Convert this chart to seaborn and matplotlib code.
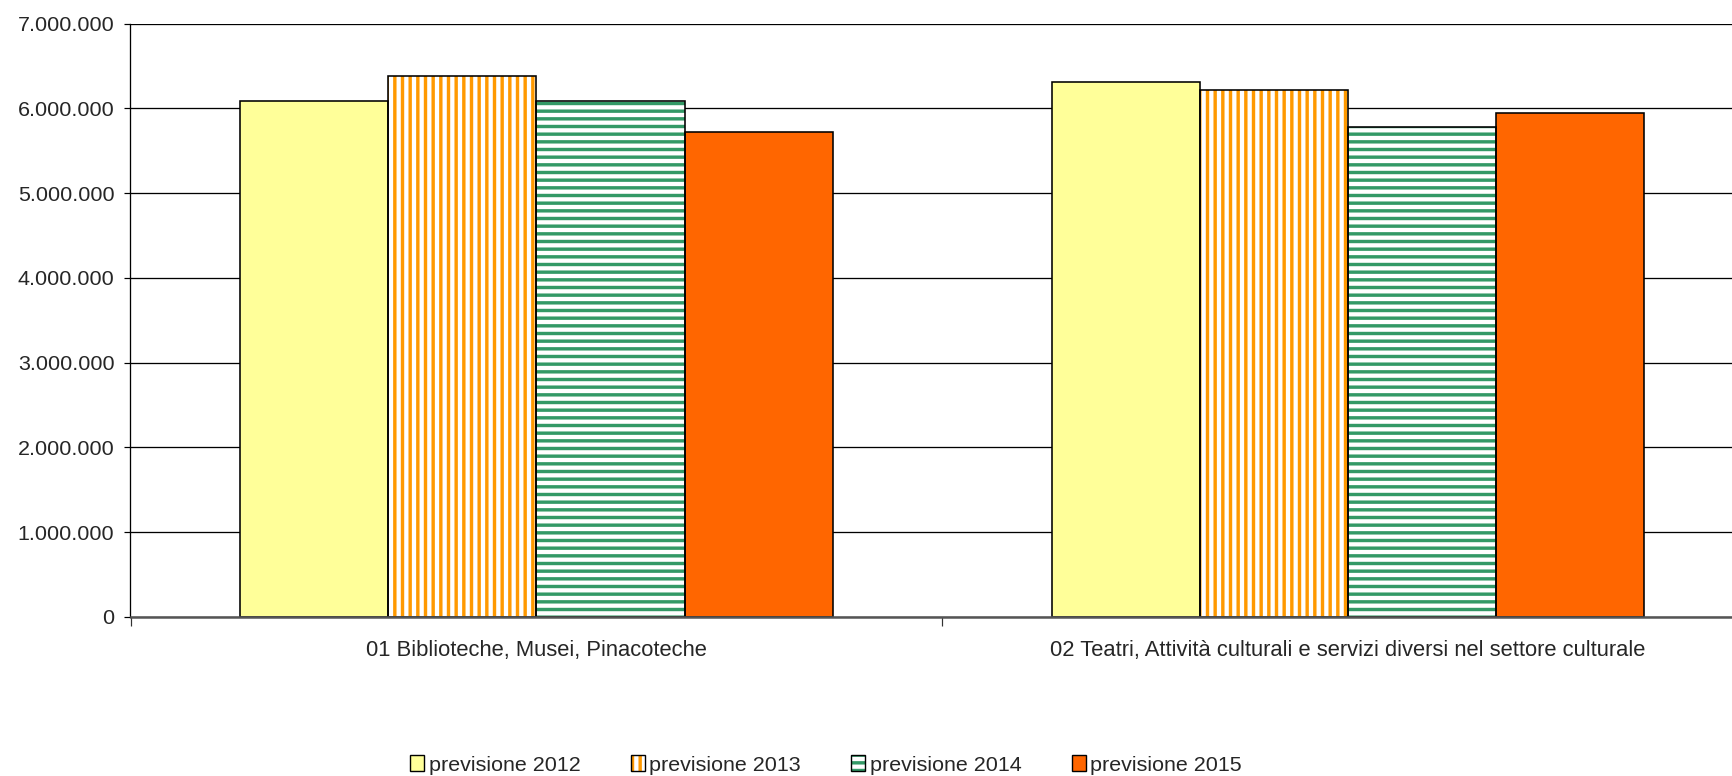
import pandas as pd
import matplotlib
matplotlib.use("Agg")
import matplotlib.pyplot as plt
import seaborn as sns
from matplotlib.patches import Patch, Rectangle
from matplotlib.ticker import FuncFormatter, FixedLocator

# data
categories = [
    "01 Biblioteche, Musei, Pinacoteche",
    "02 Teatri, Attività culturali e servizi diversi nel settore culturale",
]
series_names = ["previsione 2012", "previsione 2013", "previsione 2014", "previsione 2015"]
values_2012 = [6085000, 6313000]
values_2013 = [6383000, 6215000]
values_2014 = [6085000, 5780000]
values_2015 = [5716000, 5940000]

face_colors = ["#FFFF99", "white", "white", "#FF6600"]
hatch_colors = ["#FFFF99", "#FF9900", "#339966", "#FF6600"]
hatches = [None, "||", "--", None]

DPI = 92


def px(n):
    # pixels -> points at the output dpi
    return n * 72 / DPI


df = pd.DataFrame({
    "categoria": categories * 4,
    "serie": [s for s in series_names for _ in categories],
    "valore": values_2012 + values_2013 + values_2014 + values_2015,
})

sns.set_style("white")
plt.rcParams["font.family"] = ["Liberation Sans", "DejaVu Sans"]
plt.rcParams["hatch.linewidth"] = px(3.4)

fig = plt.figure(figsize=(1733 / DPI, 776 / DPI), dpi=DPI)
ax = fig.add_axes([130.5 / 1733, 159 / 776, (1754 - 130.5) / 1733, 593.5 / 776])

sns.barplot(
    data=df, x="categoria", y="valore", hue="serie", order=categories,
    hue_order=series_names, palette=face_colors, width=0.73, gap=0,
    saturation=1, legend=False, ax=ax, zorder=2,
)

# restyle bars: hatch in colour, black outline drawn on top
for cont, fc, hc, h in zip(ax.containers, face_colors, hatch_colors, hatches):
    for p in cont:
        p.set_facecolor(fc)
        p.set_edgecolor(hc)
        p.set_linewidth(0)
        p.set_hatch(h)
        ax.add_patch(Rectangle((p.get_x(), p.get_y()), p.get_width(), p.get_height(),
                               fill=False, ec="black", lw=px(1.6), zorder=3))

ax.set_ylim(0, 7000000)
ax.set_xlim(-0.5, 1.5)
ax.yaxis.set_major_locator(FixedLocator(range(0, 7000001, 1000000)))
ax.yaxis.set_major_formatter(FuncFormatter(lambda v, _: f"{int(v):,}".replace(",", ".")))
ax.yaxis.grid(True, color="black", lw=px(1.3), zorder=0)
ax.set_axisbelow(True)

# category boundaries get tick marks, centres carry the labels
ax.xaxis.set_major_locator(FixedLocator([-0.5, 0.5, 1.5]))
ax.xaxis.set_major_formatter(FuncFormatter(lambda v, _: ""))
ax.xaxis.set_minor_locator(FixedLocator([0, 1]))
ax.set_xticklabels(categories, minor=True)
ax.tick_params(axis="x", which="major", direction="out", length=px(9), width=px(1.2),
               color="#333333", bottom=True)
ax.tick_params(axis="x", which="minor", length=0, pad=px(23), labelsize=px(22))
ax.tick_params(axis="y", direction="out", length=px(6), width=px(1.2), color="black",
               pad=px(10), labelsize=px(21.5), left=True)

ax.set_xlabel("")
ax.set_ylabel("")
for side in ["top", "right"]:
    ax.spines[side].set_visible(False)
ax.spines["left"].set_color("black")
ax.spines["left"].set_linewidth(px(1.3))
ax.spines["bottom"].set_color("#555555")
ax.spines["bottom"].set_linewidth(px(2.5))
ax.spines["bottom"].set_zorder(4)

handles = []
for fc, hc, h in zip(face_colors, hatch_colors, hatches):
    handles.append((Patch(facecolor=fc, edgecolor=hc, lw=0, hatch=h),
                    Patch(fill=False, edgecolor="black", lw=px(1.4))))
fig.legend(
    handles, series_names, loc="center", bbox_to_anchor=(826 / 1733, 11 / 776),
    ncol=4, frameon=False, fontsize=px(21.5), handlelength=0.65, handleheight=0.7,
    handletextpad=0.2, columnspacing=2.35, borderpad=0, borderaxespad=0,
)

fig.savefig("out.png", dpi=DPI)
